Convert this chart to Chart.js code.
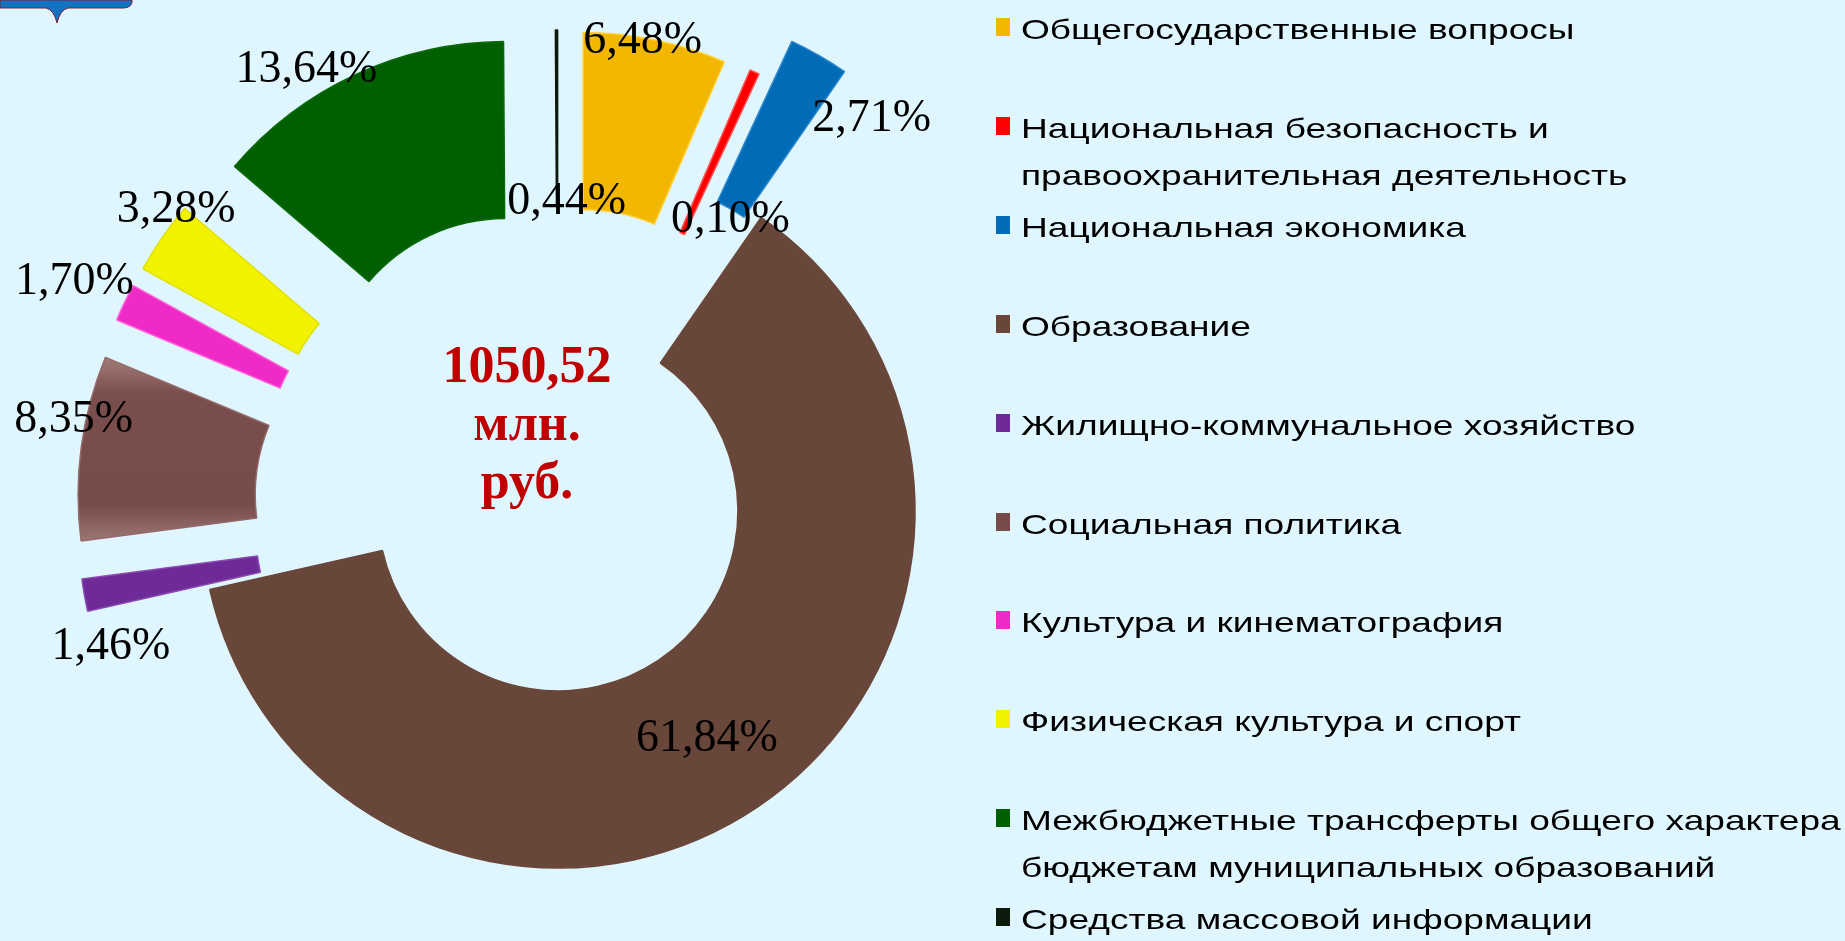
<!DOCTYPE html>
<html>
<head>
<meta charset="utf-8">
<script src="https://cdn.jsdelivr.net/npm/chart.js@4.4.1/dist/chart.umd.min.js"></script>
<style>
  html, body { margin: 0; padding: 0; background: #E0F6FF; width: 1845px; height: 941px; overflow: hidden; }
  #wrap { position: relative; width: 1845px; height: 941px; }
  #pie { position: absolute; left: 0; top: 0; }
  #logo { position: absolute; left: 0; top: 0; }
  #total { position: absolute; left: 427px; top: 336px; width: 200px; text-align: center;
           font: bold 52px 'Liberation Serif', 'Times New Roman', serif; line-height: 58px; color: #C00000; }
  .item { position: absolute; left: 996px; padding-left: 25px; color: #000;
          font: 28px 'Liberation Sans', Arial, sans-serif; line-height: 47px; white-space: nowrap; }
  .item i { position: absolute; left: 0; top: 12px; width: 14px; height: 18px; }
  .item span { display: inline-block; transform: scaleX(1.325); transform-origin: 0 0; }
</style>
</head>
<body>
<div id="wrap">
  <svg id="logo" width="140" height="26">
    <path d="M0,0 H132 Q133,7 124,8 H68 Q60,10 57,23 Q54,10 46,8 H0 Z" fill="#1372C2" stroke="#7a2030" stroke-width="1"/>
  </svg>
  <canvas id="pie" width="1845" height="941"></canvas>
  <div id="total">1050,52<br>млн.<br>руб.</div>
  <div id="legend"></div>
</div>
<script>
// расходы бюджета, % от общей суммы
const categories = [
    'Общегосударственные вопросы',
    ['Национальная безопасность и', 'правоохранительная деятельность'],
    'Национальная экономика',
    'Образование',
    'Жилищно-коммунальное хозяйство',
    'Социальная политика',
    'Культура и кинематография',
    'Физическая культура и спорт',
    ['Межбюджетные трансферты общего характера', 'бюджетам муниципальных образований'],
    'Средства массовой информации'
];
const shares = [6.48, 0.44, 2.71, 61.84, 1.46, 8.35, 1.70, 3.28, 13.64, 0.10];
const colors = ['#F2B700', '#FF0000', '#006BB6', '#68473A', '#6E2A96', '#774B4A', '#F02AC6', '#F2F200', '#005F00', '#0B1A0B'];
const edges  = ['#FFD440', '#FF5050', '#2A86CC', '#68473A', '#8A4AB0', '#93696A', '#FF60DA', '#E0E000', '#0A6A0A', '#0B1A0B'];

// вынос секторов и положение подписей
const explodeBy = [124, 124, 168, 0, 124, 124, 124, 124, 124, 124];
const labelRadius = [358, 204, 340, 269, 343, 370, 413, 365, 388, 243];
const labelShift = [-2.1, -36.0, 12.8, 0.4, -8.6, 4.7, 0.1, 5.3, -6.0, 45.5];

const explode = {
    id: 'explode',
    afterDatasetsUpdate(chart) {
        chart.getDatasetMeta(0).data.forEach((arc, i) => {
            const mid = (arc.startAngle + arc.endAngle) / 2;
            arc.x += Math.cos(mid) * explodeBy[i];
            arc.y += Math.sin(mid) * explodeBy[i];
        });
    },
    // соцполитика в оригинале с градиентом (светлее по краям)
    beforeDatasetsDraw(chart) {
        const arc = chart.getDatasetMeta(0).data[5];
        const y1 = arc.y + Math.sin(arc.endAngle) * arc.outerRadius;
        const y2 = arc.y + Math.sin(arc.startAngle) * arc.outerRadius;
        const g = chart.ctx.createLinearGradient(0, y1, 0, y2);
        g.addColorStop(0, '#A27C7A');
        g.addColorStop(0.2, '#7A4E4C');
        g.addColorStop(0.8, '#774B4A');
        g.addColorStop(1, '#9C7674');
        arc.options.backgroundColor = g;
    }
};

const pctLabels = {
    id: 'pctLabels',
    afterDatasetsDraw(chart) {
        const ctx = chart.ctx;
        ctx.save();
        ctx.font = '46px "Liberation Serif", "Times New Roman", serif';
        ctx.fillStyle = '#000';
        ctx.textAlign = 'center';
        ctx.textBaseline = 'middle';
        chart.getDatasetMeta(0).data.forEach((arc, i) => {
            const a = (arc.startAngle + arc.endAngle) / 2 + labelShift[i] * Math.PI / 180;
            const txt = shares[i].toFixed(2).replace('.', ',') + '%';
            ctx.fillText(txt, arc.x + Math.cos(a) * labelRadius[i], arc.y + Math.sin(a) * labelRadius[i] + 4);
        });
        ctx.restore();
    }
};

const ctx = document.getElementById('pie').getContext('2d');
const pie = new Chart(ctx, {
    type: 'doughnut',
    data: {
        labels: categories,
        datasets: [{
            data: shares,
            backgroundColor: colors,
            borderColor: edges,
            borderWidth: 1.5,
        }],
    },
    options: {
        responsive: false,
        animation: false,
        events: [],
        radius: 357,
        cutout: '50.4%',
        layout: { padding: { left: 0, right: 729, top: 81, bottom: 0 } },
        plugins: {
            legend: { display: false },
            tooltip: { enabled: false },
        },
    },
    plugins: [explode, pctLabels],
});

// легенда справа
const legend = document.getElementById('legend');
categories.forEach((c, i) => {
    const el = document.createElement('div');
    el.className = 'item';
    el.style.top = (6 + 98.9 * i) + 'px';
    el.innerHTML = '<i style="background:' + colors[i] + '"></i><span>' + (Array.isArray(c) ? c.join('<br>') : c) + '</span>';
    legend.appendChild(el);
});
</script>
</body>
</html>
